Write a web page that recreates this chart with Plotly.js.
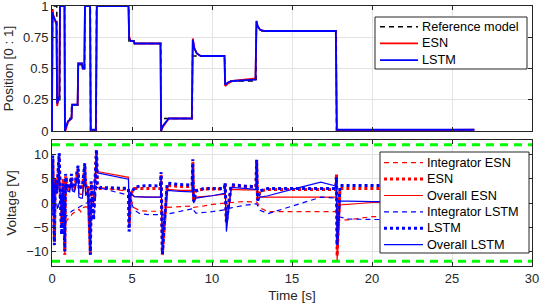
<!DOCTYPE html>
<html><head><meta charset="utf-8">
<script src="https://cdn.plot.ly/plotly-3.0.1.min.js"></script>
<style>html,body{margin:0;padding:0;background:#fff}#chart{width:540px;height:306px}</style>
</head><body><div id="chart"></div>
<script>
// ---------- Top panel: position ----------
const tRef = [0, 0.04, 0.3, 0.31, 0.49, 0.5, 0.79, 0.8, 1.21, 1.22, 1.62, 1.63, 1.89, 1.9, 2.04, 2.05, 2.4, 2.41, 2.77, 2.78, 4.8, 4.81, 5.14, 5.15, 6.8, 6.81, 8.77, 8.78, 10.8, 10.81, 12.76, 12.77, 17.77, 17.78, 26.4];
const posRef = [0, 1, 1, 0.25, 0.25, 1, 1, 0.1, 0.1, 0.21, 0.21, 0.53, 0.53, 0.5, 0.5, 1, 1, 0, 0, 1, 1, 0.72, 0.72, 0.7, 0.7, 0.1, 0.1, 0.6, 0.6, 0.4, 0.4, 0.8, 0.8, 0, 0];

const tPos = [0, 0.03, 0.08, 0.22, 0.28, 0.32, 0.42, 0.46, 0.5, 0.78,
              0.81, 0.86, 1.0, 1.18, 1.22, 1.26, 1.6, 1.64, 1.88, 1.92,
              2.02, 2.06, 2.38, 2.42, 2.74, 2.8, 4.78, 4.82, 4.9, 5.1,
              5.16, 6.78, 6.82, 6.92, 7.3, 8.74, 8.8, 8.9, 9.05, 9.3,
              10.78, 10.82, 11.0, 11.3, 12.72, 12.78, 12.85, 13.0, 13.3, 17.74,
              17.8, 26.4];
const posESN = [0, 0.97, 0.93, 0.88, 0.85, 0.2, 0.27, 0.28, 1, 1,
                0, 0.01, 0.07, 0.1, 0.1, 0.21, 0.21, 0.54, 0.54, 0.5,
                0.5, 1, 1, 0.0, 0.0, 1, 1, 0.76, 0.72, 0.72,
                0.7, 0.7, 0.0, 0.03, 0.1, 0.1, 0.74, 0.66, 0.62, 0.6,
                0.6, 0.36, 0.38, 0.4, 0.42, 0.88, 0.84, 0.81, 0.8, 0.8,
                0.0, 0.01];
const posLSTM = [0, 0.95, 0.92, 0.88, 0.86, 0.22, 0.28, 0.28, 1, 1,
                 0, 0.03, 0.08, 0.1, 0.1, 0.21, 0.21, 0.54, 0.54, 0.5,
                 0.5, 1, 1, 0.01, 0.01, 1, 1, 0.74, 0.72, 0.72,
                 0.7, 0.7, 0, 0.04, 0.1, 0.1, 0.73, 0.66, 0.62, 0.6,
                 0.6, 0.37, 0.39, 0.4, 0.41, 0.88, 0.84, 0.81, 0.8, 0.8,
                 0.01, 0.01];

// ---------- Bottom panel: voltage ----------
const tV = [0, 0.05, 0.1, 0.15, 0.2, 0.3, 0.35, 0.45, 0.5, 0.6,
            0.7, 0.8, 0.85, 0.95, 1.1, 1.22, 1.27, 1.4, 1.63, 1.68,
            1.8, 1.9, 2.05, 2.1, 2.25, 2.4, 2.45, 2.6, 2.78, 2.83,
            3.0, 4.78, 4.82, 4.9, 5.15, 5.5, 6.0, 6.78, 6.82, 6.9,
            7.2, 8.0, 8.76, 8.8, 8.85, 9.0, 9.5, 10.0, 10.78, 10.82,
            10.9, 11.2, 12.0, 12.75, 12.79, 12.85, 13.0, 13.5, 15.0, 16.8,
            17.74, 17.78, 17.82, 18.0, 18.5, 20.0, 26.4];
const integratorESN = [4, 5, 3, 2, 3, 3.5, 3, 3.5, 3, 2.5,
                       2, -2, -4.2, -3.5, -3, -2.5, -2.2, -2.0, -1.5, -1.3,
                       -1.8, -1.0, -0.8, -0.8, -0.8, -0.8, -0.5, -0.5, 3.5, 3.3,
                       3.2, 2.4, 2.0, 1.0, -1.0, -1.6, -1.7, -1.7, -1.5, -1.0,
                       -0.9, -0.7, -0.6, -0.6, -0.9, -0.8, -0.6, -0.3, 0.0, 0.0,
                       0.0, 0.1, 0.3, 0.3, 0.2, 0, -1.0, -1.8, -1.8, -1.8,
                       -1.8, -1.8, -3.0, -3.5, -3.5, -2.8, -2.6];
const esnV = [7, 9, 3, -8, 5, 3, 4.5, 9.5, 3.5, -5,
              5, -10.7, 5.5, 3.2, 2.9, 5.5, 3.2, 3.0, 7, 3.2,
              3.0, 3.2, 7.5, 3.3, 3.2, -10.5, 4.2, -0.5, 10.5, 4,
              3.0, 2.9, -5, 1.8, 3.0, 3.0, 3.0, 3.0, 6, -10.7,
              3.6, 3.4, 3.4, 8.5, 0.5, 2.6, 2.9, 2.9, 2.9, 4,
              -3.5, 3.6, 3.4, 3.3, 8.5, 0.3, 2.5, 2.8, 2.8, 2.8,
              2.8, 6, -11, 3.0, 3.0, 3.0, 3.0];
const overallESN = [3, 8, 2, -7, 4, 4, 3, 8, 3, -4,
                    4, -10.7, 4, 2.8, 2.6, 5, 2.8, 2.6, 6.5, 2.0,
                    1.8, 1.8, 7, 2, 2.5, -10, 0, 0, 10, 6.5,
                    6.4, 5.3, -3, 2, 1.3, 1.2, 1.2, 1.2, 5, -9,
                    2.8, 2.6, 2.6, 7.5, 0.2, 1.2, 1.3, 1.5, 1.8, 3.5,
                    -4, 2.8, 2.7, 2.7, 7.5, 0.5, 1.2, 1.2, 1.2, 1.2,
                    1.2, 5.4, -11.8, -0.4, -0.3, 0.1, 0.5];
const integratorLSTM = [3, 2, -2, -1, 1, 0, -1.5, 0, 2, 1,
                        0, -1, -2.8, -2.5, -2.2, -1.8, -1.6, -1.4, -1.0, -1.0,
                        -0.8, -0.5, -0.2, 0, 0, 0, -3.5, -3.5, 3.3, 3.2,
                        3.1, 1.6, 1.2, 0.5, -1.5, -2.2, -2.4, -2.4, -2.2, -2.5,
                        -2.3, -1.8, -1.2, -1.0, -1.5, -2.1, -2.0, -1.8, -1.4, -1.3,
                        -1.2, -1.0, -0.5, -0.2, -0.2, -0.5, -1.5, -2.2, -0.7, 1.2,
                        1.0, 1.0, -2.5, -2.9, -3.3, -3.4, -3.4];
const lstmV = [8, 9.8, -2, -8.7, 4, 2, 5, 10.3, 3, -6.5,
               4, -10, 6, 3.5, 3, 6, 3.5, 3.2, 7.7, 3.5,
               3.2, 3.4, 8.2, 3.6, 3.5, -10.7, 4.5, -3.5, 11.1, 4,
               3.2, 3.0, -5.9, 1.5, 3.2, 3.5, 3.6, 3.5, 6.4, -10.5,
               4.1, 3.8, 3.7, 9, 0.3, 2.5, 3.0, 3.0, 3.0, 4.2,
               -4, 3.8, 3.5, 3.4, 8.9, 0.5, 2.5, 3.0, 3.0, 3.0,
               3.0, 5.4, -8.7, 3.6, 3.6, 3.6, 3.6];
const overallLSTM = [-2.5, 9, 0, -3, 5, 2, 3, 8, 2.5, -3,
                     3, -8, 4, 2.5, 2.3, 5, 2.5, 2.3, 6, 1.2,
                     1.0, 1.0, 6.5, 1.5, 2.5, -9, 0.5, 0.3, 10, 6.2,
                     6.1, 4.9, -4, 2.2, 1.3, 1.2, 1.2, 1.2, 5.5, -8,
                     2.6, 2.4, 2.3, 8, 0, 1.0, 1.2, 1.5, 2.0, 3.5,
                     -5.9, 3.2, 3.0, 2.8, 8, 0.5, 1.2, 1.5, 2.8, 4.3,
                     3.5, 5, -8, 0.4, 0.4, 0.3, 0.2];

const limitTime = [0, 30];
const voltageLimits = [12, -12];

const topNames = ['Reference model', 'ESN', 'LSTM'];
const bottomNames = ['Integrator ESN', 'ESN', 'Overall ESN', 'Integrator LSTM', 'LSTM', 'Overall LSTM'];

const RED = '#ff0000', BLUE = '#0000ff', GREEN = '#00ff00';
const SHORTDASH = '5px,4px';

const topStyles = [
  {color: '#000000', width: 1.5, dash: SHORTDASH},
  {color: RED, width: 1.8, dash: 'solid'},
  {color: BLUE, width: 1.8, dash: 'solid'},
];
const bottomStyles = [
  {color: RED, width: 1.2, dash: SHORTDASH},
  {color: RED, width: 3, dash: 'dot'},
  {color: RED, width: 1.2, dash: 'solid'},
  {color: BLUE, width: 1.2, dash: SHORTDASH},
  {color: BLUE, width: 3, dash: 'dot'},
  {color: BLUE, width: 1.2, dash: 'solid'},
];

const topData = [[tRef, posRef], [tPos, posESN], [tPos, posLSTM]];
const bottomData = [integratorESN, esnV, overallESN, integratorLSTM, lstmV, overallLSTM];

const traces = [];
topData.forEach(([xs, ys], i) => traces.push({
  x: xs, y: ys, name: topNames[i], mode: 'lines', xaxis: 'x', yaxis: 'y', showlegend: false,
  line: topStyles[i]
}));
voltageLimits.forEach(v => traces.push({
  x: limitTime, y: [v, v], mode: 'lines', xaxis: 'x2', yaxis: 'y2', showlegend: false, hoverinfo: 'skip',
  line: {color: GREEN, width: 3, dash: '8px,6px'}
}));
bottomData.forEach((ys, i) => traces.push({
  x: tV, y: ys, name: bottomNames[i], mode: 'lines', xaxis: 'x2', yaxis: 'y2', showlegend: false,
  line: bottomStyles[i]
}));

const FONT = 'Liberation Sans, Arial, sans-serif';
const INK = '#262626';
const axBase = {showline: true, linecolor: INK, linewidth: 1, mirror: 'ticks', ticks: 'inside', ticklen: 4,
  tickcolor: INK, showgrid: true, gridcolor: '#e3e3e3', gridwidth: 1, zeroline: false,
  ticklabeloverflow: 'allow', tickfont: {family: FONT, size: 13, color: INK}};
const titleFont = {family: FONT, size: 13.5, color: INK};

// ---------- hand-drawn legends (box, samples, labels) in paper coords ----------
const L = 52, R = 532, T = 6, B = 266;   // plot area in pixels
const px = v => (v - L) / (R - L);
const py = v => (B - v) / (B - T);
const shapes = [], annotations = [];
function buildLegend(names, styles, box, rowTop, rowStep, sx0, sx1, tx) {
  shapes.push({type: 'rect', xref: 'paper', yref: 'paper', layer: 'above',
    x0: px(box[0]), x1: px(box[1]), y0: py(box[2]), y1: py(box[3]),
    fillcolor: '#ffffff', line: {color: INK, width: 1}});
  names.forEach((n, i) => {
    const yy = rowTop + i * rowStep;
    shapes.push({type: 'line', xref: 'paper', yref: 'paper', layer: 'above',
      x0: px(sx0), x1: px(sx1), y0: py(yy), y1: py(yy),
      line: {color: styles[i].color, width: styles[i].width, dash: styles[i].dash}});
    annotations.push({xref: 'paper', yref: 'paper', x: px(tx), y: py(yy), xanchor: 'left', yanchor: 'middle',
      text: n, showarrow: false, font: {family: FONT, size: 12.7, color: '#000'}});
  });
}
buildLegend(topNames, topStyles, [375, 527, 17, 69], 26.7, 16.7, 380, 418, 420);
buildLegend(bottomNames, bottomStyles, [380, 529, 152, 253], 162.7, 16.4, 384, 423, 424.5);

const layout = {
  width: 540, height: 306,
  margin: {l: L, r: 540 - R, t: T, b: 306 - B},
  paper_bgcolor: '#fff', plot_bgcolor: '#fff',
  font: {family: FONT, color: INK},
  showlegend: false,
  xaxis: Object.assign({}, axBase, {domain: [0, 1], anchor: 'y', range: [0, 30], dtick: 5, showticklabels: false}),
  xaxis2: Object.assign({}, axBase, {domain: [0, 1], anchor: 'y2', range: [0, 30], dtick: 5, matches: 'x',
    title: {text: 'Time [s]', font: titleFont, standoff: 5}}),
  yaxis: Object.assign({}, axBase, {domain: [py(131), 1], anchor: 'x', range: [0, 1],
    tickvals: [0, 0.25, 0.5, 0.75, 1], ticktext: ['0', '0.25', '0.5', '0.75', '1'],
    title: {text: 'Position [0 : 1]', font: titleFont, standoff: 6}}),
  yaxis2: Object.assign({}, axBase, {domain: [0, py(140)], anchor: 'x2', range: [-13, 13],
    tickvals: [-10, -5, 0, 5, 10],
    title: {text: 'Voltage [V]', font: titleFont, standoff: 6}}),
  shapes: shapes,
  annotations: annotations,
};

Plotly.newPlot('chart', traces, layout, {staticPlot: true, displayModeBar: false});
</script></body></html>
